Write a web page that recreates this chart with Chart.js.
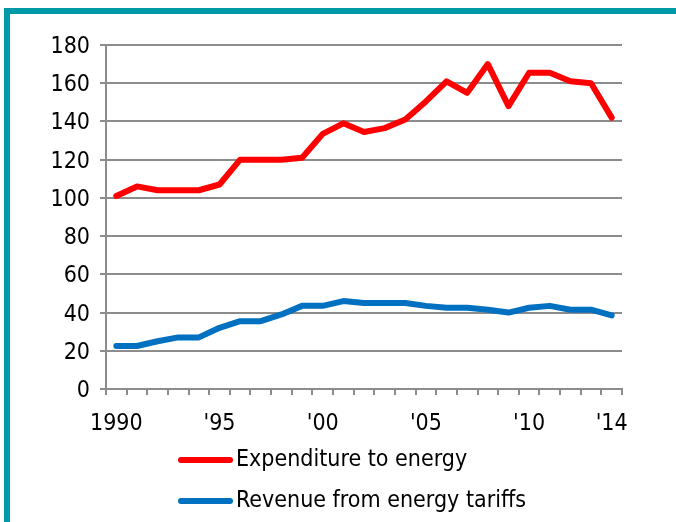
<!DOCTYPE html>
<html>
<head>
<meta charset="utf-8">
<script src="https://cdn.jsdelivr.net/npm/chart.js@4.4.1/dist/chart.umd.min.js"></script>
<style>
    html, body { margin: 0; padding: 0; background: #fff; }
    .wrap { position: relative; width: 676px; height: 522px; overflow: hidden; }
    .frame {
        position: absolute; left: 4px; top: 8px; width: 700px; height: 600px;
        border-top: 6px solid #0099a8; border-left: 6px solid #0099a8;
    }
    canvas { position: absolute; left: 0; top: 0; }
</style>
</head>
<body>
<div class="wrap">
    <div class="frame"></div>
    <canvas id="energyChart" width="676" height="522"></canvas>
</div>
<script>
const years = [
    1990, 1991, 1992, 1993, 1994, 1995, 1996, 1997, 1998, 1999,
    2000, 2001, 2002, 2003, 2004, 2005, 2006, 2007, 2008, 2009,
    2010, 2011, 2012, 2013, 2014,
];

const xTickLabels = [
    '1990', '', '', '', '', "'95", '', '', '', '',
    "'00", '', '', '', '', "'05", '', '', '', '',
    "'10", '', '', '', "'14",
];

const expenditure = [
    101, 106, 104, 104, 104, 107, 120, 120, 120, 121,
    133.5, 139, 134.5, 136.5, 141, 150.5, 161, 155, 170, 148,
    165.5, 165.5, 161, 160, 142,
];

const revenue = [
    22.5, 22.5, 25, 27, 27, 32, 35.5, 35.5, 39, 43.5,
    43.5, 46, 45, 45, 45, 43.5, 42.5, 42.5, 41.5, 40,
    42.5, 43.5, 41.5, 41.5, 38.5,
];

const seriesNames = ['Expenditure to energy', 'Revenue from energy tariffs'];
const seriesColors = ['#ff0000', '#0070c0'];

const fontFamily = '"DejaVu Sans Condensed", "DejaVu Sans", sans-serif';
const gridColor = '#8c8c8c';

// legend drawn by hand: vertical list with line samples
const lineLegend = {
    id: 'lineLegend',
    afterDraw(chart) {
        const ctx = chart.ctx;
        ctx.save();
        ctx.font = '23px ' + fontFamily;
        ctx.textBaseline = 'middle';
        ctx.fillStyle = '#000';
        chart.data.datasets.forEach((ds, i) => {
            const y = 460 + i * 41;
            ctx.strokeStyle = ds.borderColor;
            ctx.lineWidth = 6;
            ctx.lineCap = 'round';
            ctx.beginPath();
            ctx.moveTo(181, y);
            ctx.lineTo(230, y);
            ctx.stroke();
            ctx.fillText(ds.label, 236, y);
        });
        ctx.restore();
    },
};

new Chart(document.getElementById('energyChart'), {
    type: 'line',
    data: {
        labels: years,
        datasets: seriesNames.map((name, i) => ({
            label: name,
            data: [expenditure, revenue][i],
            borderColor: seriesColors[i],
            backgroundColor: seriesColors[i],
            borderWidth: 6,
            borderCapStyle: 'round',
            borderJoinStyle: 'round',
            pointRadius: 0,
            tension: 0,
        })),
    },
    options: {
        responsive: false,
        animation: false,
        layout: { padding: { top: 45, right: 54, left: 0, bottom: 0 } },
        plugins: {
            legend: { display: false },
            tooltip: { enabled: false },
        },
        scales: {
            x: {
                offset: true,
                grid: {
                    offset: true,
                    drawOnChartArea: false,
                    color: gridColor,
                    lineWidth: 2,
                    tickLength: 6,
                },
                border: { color: gridColor, width: 2 },
                ticks: {
                    autoSkip: false,
                    maxRotation: 0,
                    color: '#000',
                    padding: 15,
                    font: { family: fontFamily, size: 23 },
                    callback: (v, i) => xTickLabels[i],
                },
                afterFit: (scale) => { scale.height = 133; },
            },
            y: {
                min: 0,
                max: 180,
                ticks: {
                    stepSize: 20,
                    color: '#000',
                    padding: 10,
                    labelOffset: 2,
                    font: { family: fontFamily, size: 23 },
                },
                grid: { color: gridColor, lineWidth: 2, tickLength: 6 },
                border: { color: gridColor, width: 2 },
                afterFit: (scale) => { scale.width = 106; },
            },
        },
    },
    plugins: [lineLegend],
});
</script>
</body>
</html>
